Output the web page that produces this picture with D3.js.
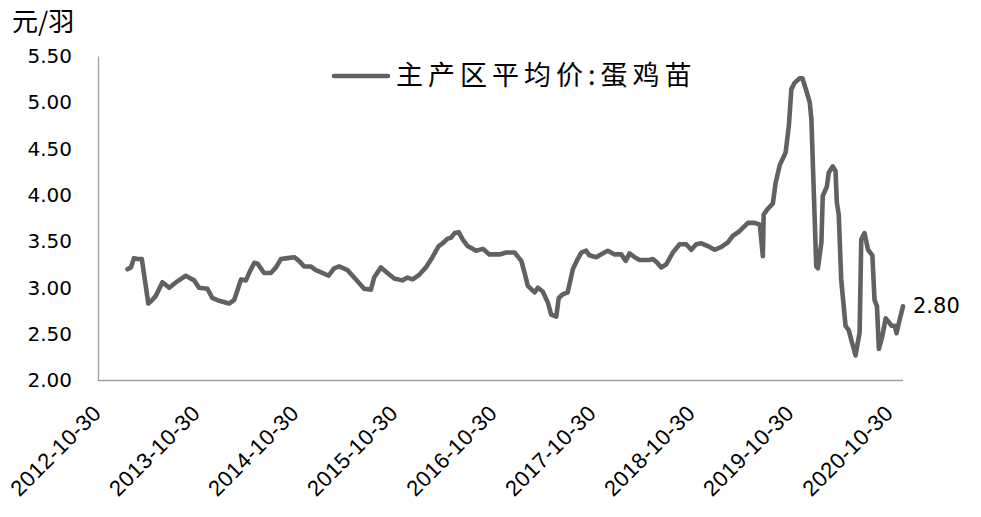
<!DOCTYPE html>
<html><head><meta charset="utf-8">
<script src="https://cdnjs.cloudflare.com/ajax/libs/d3/7.8.5/d3.min.js"></script>
<style>body{margin:0;background:#fff}</style>
</head><body>
<svg id="chart" width="981" height="517"></svg>
<script>
const seriesName = "主产区平均价:蛋鸡苗";
const unitLabel = "元/羽";
const lastLabel = "2.80";
const yTicks = [2.0, 2.5, 3.0, 3.5, 4.0, 4.5, 5.0, 5.5];
const xTicks = ["2012-10-30","2013-10-30","2014-10-30","2015-10-30","2016-10-30","2017-10-30","2018-10-30","2019-10-30","2020-10-30"];
const dates = [
"2013-02-12","2013-02-25","2013-03-08","2013-03-21","2013-04-06","2013-04-30","2013-05-15","2013-05-27","2013-06-21","2013-07-16",
"2013-08-15","2013-09-15","2013-10-16","2013-11-03","2013-12-04","2013-12-22","2014-01-16","2014-02-22","2014-03-13","2014-04-07",
"2014-04-25","2014-05-10","2014-05-26","2014-06-07","2014-07-01","2014-07-26","2014-08-14","2014-09-01","2014-09-25","2014-10-20",
"2014-11-07","2014-11-26","2014-12-20","2015-01-08","2015-02-01","2015-02-24","2015-03-16","2015-04-04","2015-05-05","2015-06-05",
"2015-07-05","2015-07-30","2015-08-11","2015-09-05","2015-09-29","2015-10-24","2015-11-23","2015-12-12","2015-12-31","2016-01-24",
"2016-02-18","2016-03-13","2016-04-05","2016-04-20","2016-05-08","2016-05-21","2016-06-03","2016-06-18","2016-07-03","2016-07-21",
"2016-08-21","2016-09-15","2016-10-09","2016-11-15","2016-12-10","2017-01-10","2017-02-04","2017-02-16","2017-02-28","2017-03-25",
"2017-04-06","2017-04-24","2017-05-13","2017-05-25","2017-06-13","2017-06-22","2017-07-07","2017-07-25","2017-08-13","2017-08-31",
"2017-09-13","2017-10-01","2017-10-13","2017-11-07","2017-12-01","2017-12-20","2018-01-14","2018-02-08","2018-02-24","2018-03-10",
"2018-03-29","2018-04-16","2018-05-23","2018-06-04","2018-06-17","2018-07-05","2018-07-23","2018-08-17","2018-09-11","2018-10-05",
"2018-10-24","2018-11-11","2018-11-30","2018-12-24","2019-01-18","2019-02-12","2019-03-08","2019-03-26","2019-04-20","2019-05-21",
"2019-06-15","2019-07-04","2019-07-15","2019-07-18","2019-08-02","2019-08-21","2019-08-31","2019-09-15","2019-10-07","2019-10-19",
"2019-10-28","2019-11-09","2019-11-28","2019-12-08","2019-12-23","2020-01-04","2020-01-10","2020-01-28","2020-02-03","2020-02-16",
"2020-02-21","2020-03-07","2020-03-14","2020-03-29","2020-04-08","2020-04-13","2020-04-20","2020-04-29","2020-05-15","2020-05-27",
"2020-06-05","2020-06-21","2020-07-06","2020-07-12","2020-07-24","2020-08-06","2020-08-22","2020-08-30","2020-09-08","2020-09-15",
"2020-09-28","2020-10-10","2020-10-19","2020-11-01","2020-11-13","2020-11-19","2020-12-01","2020-12-13"
];
const values = [
3.20,3.22,3.32,3.31,3.31,2.83,2.87,2.91,3.06,3.00,
3.07,3.13,3.08,3.00,2.99,2.89,2.86,2.83,2.87,3.09,
3.08,3.18,3.27,3.26,3.16,3.16,3.22,3.31,3.32,3.33,
3.29,3.23,3.23,3.19,3.16,3.13,3.21,3.23,3.19,3.09,
2.99,2.98,3.11,3.22,3.16,3.10,3.08,3.11,3.09,3.14,
3.22,3.33,3.45,3.48,3.53,3.54,3.59,3.60,3.52,3.45,
3.40,3.42,3.36,3.36,3.38,3.38,3.29,3.16,3.02,2.95,
3.00,2.96,2.84,2.71,2.69,2.89,2.93,2.95,3.20,3.31,
3.38,3.40,3.35,3.33,3.37,3.40,3.36,3.36,3.29,3.37,
3.33,3.30,3.30,3.31,3.28,3.22,3.25,3.38,3.47,3.47,
3.41,3.47,3.48,3.45,3.41,3.44,3.49,3.56,3.61,3.70,
3.70,3.68,3.34,3.79,3.85,3.91,4.13,4.32,4.46,4.75,
5.14,5.21,5.26,5.26,5.12,5.00,4.82,3.23,3.21,3.49,
3.99,4.09,4.24,4.31,4.26,3.92,3.79,3.09,2.59,2.54,
2.44,2.27,2.52,3.52,3.59,3.41,3.35,2.87,2.80,2.34,
2.48,2.67,2.64,2.59,2.59,2.51,2.66,2.80
];

const parse = d3.utcParse("%Y-%m-%d");
const data = dates.map((d, i) => ({date: parse(d), value: values[i]}));

const svg = d3.select("#chart");
const lineColor = "#616161";
const axisColor = "#a0a0a0";
const numFont = "'DejaVu Sans', Verdana, sans-serif";
const dateFont = "'Liberation Sans', Arial, sans-serif";
const cjkFont = "'Noto Sans CJK SC', sans-serif";

const x = d3.scaleUtc().domain([parse("2012-10-30"), parse("2020-12-13")]).range([99, 903]);
const y = d3.scaleLinear().domain([2, 5.5]).range([380.5, 56]);

// Y axis
const yAxis = svg.append("g").attr("transform", "translate(98,0)")
  .call(d3.axisLeft(y).tickValues(yTicks).tickFormat(d3.format(".2f")).tickSize(0).tickSizeOuter(0).tickPadding(26));
yAxis.select(".domain").attr("stroke", axisColor).attr("stroke-width", 1.3);
yAxis.selectAll("text").attr("font-family", numFont).attr("font-size", 20).attr("fill", "#000");

// X axis
const xAxis = svg.append("g").attr("transform", "translate(0,380.5)")
  .call(d3.axisBottom(x).tickValues(xTicks.map(parse)).tickFormat(d3.utcFormat("%Y-%m-%d")).tickSize(0).tickSizeOuter(0));
xAxis.select(".domain").attr("stroke", axisColor).attr("stroke-width", 1.3).attr("d", "M98,0H903");
xAxis.selectAll("text")
  .attr("x", 0).attr("y", 0).attr("dy", 0)
  .attr("text-anchor", "end")
  .attr("transform", "translate(3,34) rotate(-45)")
  .attr("font-family", dateFont).attr("font-size", 22).attr("letter-spacing", 0.5).attr("fill", "#000");

// Unit label
svg.append("text").attr("x", 12).attr("y", 31).text(unitLabel)
  .attr("font-family", cjkFont).attr("font-size", 26).attr("fill", "#000");

// Line
const line = d3.line().x(d => x(d.date)).y(d => y(d.value));
svg.append("path").datum(data).attr("d", line)
  .attr("fill", "none").attr("stroke", lineColor).attr("stroke-width", 4.6)
  .attr("stroke-linejoin", "round").attr("stroke-linecap", "round");

// Last value label
const last = data[data.length - 1];
svg.append("text").attr("x", x(last.date) + 10).attr("y", y(last.value) + 7).text(lastLabel)
  .attr("font-family", numFont).attr("font-size", 21).attr("fill", "#000");

// Legend
svg.append("line").attr("x1", 334).attr("x2", 388).attr("y1", 76).attr("y2", 76)
  .attr("stroke", lineColor).attr("stroke-width", 4.6).attr("stroke-linecap", "round");
svg.append("text").attr("x", 396).attr("y", 85).text(seriesName)
  .attr("font-family", cjkFont).attr("font-size", 27).attr("letter-spacing", 5).attr("fill", "#000");
</script>
</body></html>
